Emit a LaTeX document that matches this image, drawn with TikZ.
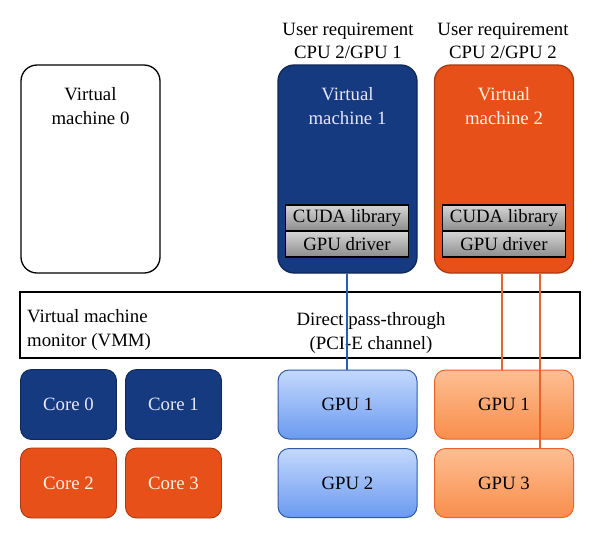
\documentclass[tikz,border=0pt]{standalone}
\usepackage{fontspec}
\setmainfont{Liberation Serif}
\begin{document}
\begin{tikzpicture}[x=1pt,y=-1pt,
  fnt/.style={font=\fontsize{18.8}{23.5}\selectfont},
  txt/.style={fnt, align=center, inner sep=0pt},
  vmbox/.style={rounded corners=16pt, minimum width=139pt, minimum height=208pt, inner sep=0pt, line width=1.3pt},
  smallbox/.style={fnt, rounded corners=11pt, minimum width=96pt, minimum height=70pt, inner sep=0pt, line width=0.9pt},
  gpubox/.style={fnt, rounded corners=11pt, minimum width=139pt, minimum height=69pt, inner sep=0pt, line width=1pt},
  libbox/.style={fnt, draw=black, line width=1.2pt, top color=libtop, bottom color=libbot, minimum width=123pt, minimum height=26pt, inner sep=0pt}
]
\definecolor{vmblue}{HTML}{163A7F}
\definecolor{vmblueline}{HTML}{0E2858}
\definecolor{vmorange}{HTML}{E8501A}
\definecolor{vmorangeline}{HTML}{A83A10}
\definecolor{libtop}{HTML}{D6D6D6}
\definecolor{libbot}{HTML}{8C8C8C}
\definecolor{gbtop}{HTML}{C4D8FC}
\definecolor{gbbot}{HTML}{6A9AF0}
\definecolor{gbline}{HTML}{2E5BA4}
\definecolor{gotop}{HTML}{FDBE92}
\definecolor{gobot}{HTML}{F98E4C}
\definecolor{goline}{HTML}{E8642C}
\definecolor{bluewire}{HTML}{2A5CB0}
\definecolor{orangewire}{HTML}{E8642C}
\useasboundingbox (0,0) rectangle (600,539);
\fill[white] (0,0) rectangle (600,539);

% user requirement labels
\node[txt] (req1) at (348,41) {User requirement\\CPU 2/GPU 1};
\node[txt] (req2) at (503,41) {User requirement\\CPU 2/GPU 2};

% virtual machines
\node[vmbox, draw=black, fill=white] (vm0) at (90.5,169) {};
\node[vmbox, draw=vmblueline, fill=vmblue] (vm1) at (347.5,169) {};
\node[vmbox, draw=vmorangeline, fill=vmorange] (vm2) at (504,169) {};
\node[txt] (vm0t) at (90.5,106) {Virtual\\machine 0};
\node[txt, text=white!90!blue] (vm1t) at (347.5,106) {Virtual\\machine 1};
\node[txt, text=white!90!orange] (vm2t) at (504,106) {Virtual\\machine 2};

% libraries
\node[libbox] (cuda1) at (347,218) {CUDA library};
\node[libbox] (drv1) at (347,244) {GPU driver};
\node[libbox] (cuda2) at (504,218) {CUDA library};
\node[libbox] (drv2) at (504,244) {GPU driver};

% VMM
\node[draw=black, line width=1.3pt, minimum width=560pt, minimum height=66pt, inner sep=0pt] (vmm) at (300,325) {};
\node[txt, align=left, anchor=west] (vmmt) at (27,330) {Virtual machine\\ monitor (VMM)};
\node[txt] (pass) at (371,333) {Direct pass-through\\ (PCI-E channel)};

% cores
\node[smallbox, draw=vmblueline, fill=vmblue, text=white!90!blue] (c0) at (68.5,404.5) {Core 0};
\node[smallbox, draw=vmblueline, fill=vmblue, text=white!90!blue] (c1) at (173.5,404.5) {Core 1};
\node[smallbox, draw=vmorangeline, fill=vmorange, text=white!90!orange] (c2) at (68.5,483) {Core 2};
\node[smallbox, draw=vmorangeline, fill=vmorange, text=white!90!orange] (c3) at (173.5,483) {Core 3};

% GPUs
\node[gpubox, draw=gbline, top color=gbtop, bottom color=gbbot] (bg1) at (347.5,404.5) {GPU 1};
\node[gpubox, draw=gbline, top color=gbtop, bottom color=gbbot] (bg2) at (347.5,483) {GPU 2};
\node[gpubox, draw=goline, top color=gotop, bottom color=gobot] (og1) at (504,404.5) {GPU 1};
\node[gpubox, draw=goline, top color=gotop, bottom color=gobot] (og3) at (504,483) {GPU 3};

% pass-through wires
\coordinate (bx) at (347,0);
\coordinate (ox1) at (502,0);
\coordinate (ox2) at (540,0);
\draw[bluewire, line width=1.2pt] (vm1.south -| bx) -- (bg1.north -| bx);
\draw[orangewire, line width=1.2pt] (vm2.south -| ox1) -- (og1.north -| ox1);
\draw[orangewire, line width=1.2pt] (vm2.south -| ox2) -- (og3.north -| ox2);
\end{tikzpicture}
\end{document}
